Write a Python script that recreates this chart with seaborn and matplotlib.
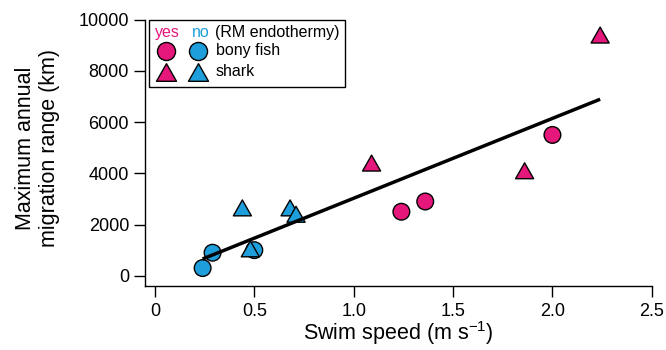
import matplotlib
matplotlib.use("Agg")
import matplotlib.pyplot as plt
import seaborn as sns
import numpy as np
import pandas as pd
from matplotlib.path import Path
from matplotlib.lines import Line2D
from matplotlib.offsetbox import AnchoredOffsetbox, TextArea, HPacker, VPacker, DrawingArea

# ---- data ----
speed_fish_yes = [1.24, 1.36, 2.00]
range_fish_yes = [2500, 2900, 5500]
speed_fish_no = [0.24, 0.29, 0.50]
range_fish_no = [300, 900, 1000]
speed_shark_yes = [1.09, 1.86, 2.24]
range_shark_yes = [4400, 4100, 9400]
speed_shark_no = [0.44, 0.48, 0.68, 0.71]
range_shark_no = [2650, 1050, 2650, 2400]

x_ticks = [0, 0.5, 1.0, 1.5, 2.0, 2.5]
x_ticklabels = ["0", "0.5", "1.0", "1.5", "2.0", "2.5"]
y_ticks = [0, 2000, 4000, 6000, 8000, 10000]

pink = "#E5177B"
blue = "#1E9FDC"

rows = []
for sp, rg, grp, endo in [
    (speed_fish_yes, range_fish_yes, "bony fish", "yes"),
    (speed_fish_no, range_fish_no, "bony fish", "no"),
    (speed_shark_yes, range_shark_yes, "shark", "yes"),
    (speed_shark_no, range_shark_no, "shark", "no"),
]:
    for a, b in zip(sp, rg):
        rows.append(dict(speed=a, range=b, group=grp, endothermy=endo))
df = pd.DataFrame(rows)

sns.set_style("ticks")
plt.rcParams["font.family"] = ["Liberation Sans", "DejaVu Sans"]
plt.rcParams["text.color"] = "black"
plt.rcParams["axes.labelcolor"] = "black"
plt.rcParams["mathtext.fontset"] = "custom"
plt.rcParams["mathtext.rm"] = "Liberation Sans"
plt.rcParams["mathtext.it"] = "Liberation Sans:italic"
plt.rcParams["mathtext.bf"] = "Liberation Sans:bold"
plt.rcParams["mathtext.default"] = "regular"

fig = plt.figure(figsize=(6.66, 3.5), dpi=100)
ax = fig.add_axes([0.2177, 0.1829, 0.761, 0.7608])

tri = Path([(0, 0.88), (-1, -0.88), (1, -0.88), (0, 0.88)], closed=True)
palette = {"yes": pink, "no": blue}

sns.regplot(data=df, x="speed", y="range", scatter=False, ci=None, color="black",
            truncate=True, line_kws=dict(lw=2.5, zorder=4, solid_capstyle="butt"), ax=ax)
sns.scatterplot(data=df[df.group == "bony fish"], x="speed", y="range", hue="endothermy",
                palette=palette, marker="o", s=144, edgecolor="black", linewidth=1,
                legend=False, zorder=3, ax=ax)
sns.scatterplot(data=df[df.group == "shark"], x="speed", y="range", hue="endothermy",
                palette=palette, marker=tri, s=169, edgecolor="black", linewidth=1,
                legend=False, zorder=3, ax=ax)

ax.set_xlim(-0.05, 2.5)
ax.set_ylim(-400, 10000)
ax.set_xticks(x_ticks)
ax.set_xticklabels(x_ticklabels)
ax.set_yticks(y_ticks)
ax.set_yticklabels([str(v) for v in y_ticks])
for s in ["top", "right"]:
    ax.spines[s].set_visible(False)
for s in ["left", "bottom"]:
    ax.spines[s].set_linewidth(1.0)
    ax.spines[s].set_color("black")
ax.tick_params(axis="both", direction="out", length=8, width=1, colors="black",
               labelsize=13)
ax.tick_params(axis="x", pad=4)
ax.tick_params(axis="y", pad=3.5)

ax.set_xlabel("Swim speed (m s$^{-1}$)", fontsize=15.5, color="black")
ax.set_ylabel("Maximum annual\nmigration range (km)", fontsize=15.5, linespacing=1.2,
              color="black")
ax.xaxis.set_label_coords(0.5, -0.124)
ax.yaxis.set_label_coords(-0.168, 0.518)

# ---- custom legend ----
fs = 11.5
def ta(s, c):
    return TextArea(s, textprops=dict(color=c, fontsize=fs))

header = HPacker(children=[HPacker(children=[ta("yes", pink), ta("no", blue)], sep=9, pad=0),
                           ta("(RM endothermy)", "black")], sep=3.5, pad=0, align="baseline")

def row(marker, ms, label):
    da = DrawingArea(42, 14.4, 0, 0)
    for xp, c in [(8.4, pink), (31.2, blue)]:
        da.add_artist(Line2D([xp], [7.2], marker=marker, markersize=ms, color=c,
                             markerfacecolor=c, markeredgecolor="black",
                             markeredgewidth=1, linestyle="none"))
    return HPacker(children=[da, ta(label, "black")], sep=2, pad=0, align="center")

vp = VPacker(children=[header, row("o", 13, "bony fish"), row(tri, 14.4, "shark")],
             sep=0.5, pad=0, align="left")
box = AnchoredOffsetbox(loc="upper left", child=vp, pad=0.35, borderpad=0, frameon=True,
                        bbox_to_anchor=(0.008, 1.0), bbox_transform=ax.transAxes,
                        prop=dict(size=fs))
box.patch.set_edgecolor("black")
box.patch.set_linewidth(1.0)
box.patch.set_boxstyle("square", pad=0)
ax.add_artist(box)

fig.savefig("out.png", dpi=100)
